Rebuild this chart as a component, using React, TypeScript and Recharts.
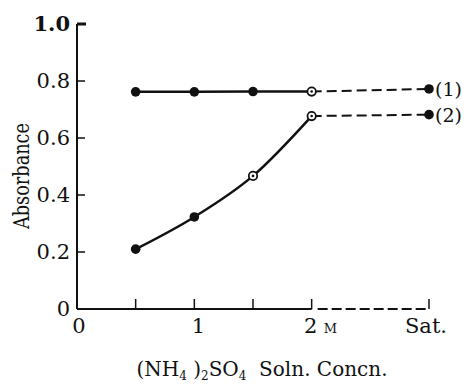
import React from "react";
import { ComposedChart, Line, XAxis, YAxis, ReferenceLine } from "recharts";

// Concentration positions (M); 3 stands for "Sat."
const concentrations = [0.5, 1, 1.5, 2, 3];
const series1 = [0.762, 0.762, 0.763, 0.763, 0.772];
const series2 = [0.21, 0.323, 0.467, 0.677, 0.682];
const seriesNames = ["(1)", "(2)"];
const xTicks = [0, 0.5, 1, 1.5, 2, 3];
const xTickLabels = ["0", "", "1", "", "2", "Sat."];
const yTicks = [0, 0.2, 0.4, 0.6, 0.8, 1.0];
const yTickLabels = ["0", "0.2", "0.4", "0.6", "0.8", "1.0"];

// marker styles per point (style only)
const marks1 = ["fill", "fill", "fill", "open", "fill"];
const marks2 = ["fill", "fill", "open", "open", "fill"];

const LAST = concentrations.length - 1;
const BREAK = 3;

const data = concentrations.map((c, i) => ({
  x: c,
  s1Solid: i <= BREAK ? series1[i] : null,
  s1Dash: i >= BREAK ? series1[i] : null,
  s2Solid: i <= BREAK ? series2[i] : null,
  s2Dash: i >= BREAK ? series2[i] : null,
}));

const FONT = "DejaVu Serif";
const INK = "#111";

function makeDot(marks: string[], only?: number) {
  return (props: any) => {
    const { cx, cy, index } = props;
    if (cx == null || cy == null || (only !== undefined && index !== only)) {
      return <g key={`d-${index}`} />;
    }
    if (marks[index] === "open") {
      return (
        <g key={`d-${index}`}>
          <circle cx={cx} cy={cy} r={4.2} fill="#fff" stroke={INK} strokeWidth={1.8} />
          <circle cx={cx} cy={cy} r={1.3} fill={INK} />
        </g>
      );
    }
    return <circle key={`d-${index}`} cx={cx} cy={cy} r={4.8} fill={INK} />;
  };
}

function makeEndLabel(name: string) {
  return (props: any) => {
    const { x, y, index } = props;
    if (index !== LAST || x == null) return <g key={`l-${index}`} />;
    return (
      <text
        key={`l-${index}`}
        x={x + 6}
        y={y + 7}
        fontFamily={FONT}
        fontSize={19}
        fill={INK}
      >
        {name}
      </text>
    );
  };
}

const YTick = (props: any) => {
  const { x, y, payload } = props;
  const i = yTicks.indexOf(payload.value);
  const label = yTickLabels[i] ?? String(payload.value);
  const isTop = payload.value === 1;
  const isZero = payload.value === 0;
  return (
    <g>
      {!isZero && (
        <line
          x1={x}
          x2={x + (isTop ? 9 : 8)}
          y1={y}
          y2={y}
          stroke={INK}
          strokeWidth={isTop ? 3 : 1.5}
        />
      )}
      <text
        x={x - 7}
        y={y + 7}
        textAnchor="end"
        fontFamily={FONT}
        fontSize={21}
        fontWeight={isTop ? "bold" : "normal"}
        fill={INK}
      >
        {label}
      </text>
    </g>
  );
};

const XTick = (props: any) => {
  const { x, y, payload } = props;
  const i = xTicks.indexOf(payload.value);
  const label = xTickLabels[i] ?? "";
  const isZero = payload.value === 0;
  return (
    <g>
      {!isZero && (
        <line x1={x} x2={x} y1={y} y2={y - 10} stroke={INK} strokeWidth={1.5} />
      )}
      {label !== "" && (
        <text
          x={x + (isZero ? 2 : payload.value === 1 ? 4 : payload.value === 3 ? -3 : -1)}
          y={y + 24}
          textAnchor="middle"
          fontFamily={FONT}
          fontSize={21}
          fill={INK}
        >
          {label}
        </text>
      )}
      {payload.value === 2 && (
        <text x={x + 12} y={y + 24} fontFamily={FONT} fontSize={13} fill={INK}>
          M
        </text>
      )}
    </g>
  );
};

export default function App() {
  return (
    <div style={{ position: "absolute", left: 0, top: 0, width: 466, height: 392, background: "#fff" }}>
      <ComposedChart
        width={466}
        height={392}
        data={data}
        margin={{ top: 24, right: 37, left: 17, bottom: 43 }}
      >
        <XAxis
          dataKey="x"
          type="number"
          domain={[0, 3]}
          ticks={xTicks}
          axisLine={false}
          tickLine={false}
          tickSize={0}
          tickMargin={0}
          height={40}
          tick={<XTick />}
          interval={0}
        />
        <YAxis
          type="number"
          domain={[0, 1]}
          ticks={yTicks}
          axisLine={{ stroke: INK, strokeWidth: 2 }}
          tickLine={false}
          tickSize={0}
          tickMargin={0}
          width={60}
          tick={<YTick />}
          interval={0}
        />
        <ReferenceLine
          segment={[{ x: 0, y: 0 }, { x: 2, y: 0 }]}
          stroke={INK}
          strokeWidth={2}
          ifOverflow="visible"
        />
        <ReferenceLine
          segment={[{ x: 2, y: 0 }, { x: 3, y: 0 }]}
          stroke={INK}
          strokeWidth={1.8}
          strokeDasharray="0 6 10 4 10 4 10 4 10 4 10 4 10 4 10 4 10 4"
          ifOverflow="visible"
        />
        <Line
          dataKey="s1Solid"
          type="linear"
          stroke={INK}
          strokeWidth={2.5}
          dot={makeDot(marks1)}
          activeDot={false}
          isAnimationActive={false}
        />
        <Line
          dataKey="s1Dash"
          type="linear"
          stroke={INK}
          strokeWidth={2}
          strokeDasharray="10 5"
          dot={makeDot(marks1, LAST)}
          activeDot={false}
          label={makeEndLabel(seriesNames[0])}
          isAnimationActive={false}
        />
        <Line
          dataKey="s2Solid"
          type="monotone"
          stroke={INK}
          strokeWidth={2.5}
          dot={makeDot(marks2)}
          activeDot={false}
          isAnimationActive={false}
        />
        <Line
          dataKey="s2Dash"
          type="linear"
          stroke={INK}
          strokeWidth={2}
          strokeDasharray="10 5"
          dot={makeDot(marks2, LAST)}
          activeDot={false}
          label={makeEndLabel(seriesNames[1])}
          isAnimationActive={false}
        />
        <text
          x={21}
          y={176}
          transform="rotate(-90 21 176)"
          textAnchor="middle"
          dominantBaseline="central"
          fontFamily={FONT}
          fontSize={22}
          textLength={106}
          lengthAdjust="spacingAndGlyphs"
          fill={INK}
        >
          Absorbance
        </text>
        <text
          x={262}
          y={376}
          textAnchor="middle"
          fontFamily={FONT}
          fontSize={20}
          fill={INK}
          style={{ whiteSpace: "pre" }}
        >
          <tspan>(NH</tspan>
          <tspan fontSize={12} dy={4}>4</tspan>
          <tspan dy={-4}> )</tspan>
          <tspan fontSize={12} dy={4}>2</tspan>
          <tspan dy={-4}>SO</tspan>
          <tspan fontSize={12} dy={4}>4</tspan>
          <tspan dy={-4}>{"  Soln. Concn."}</tspan>
        </text>
      </ComposedChart>
    </div>
  );
}
